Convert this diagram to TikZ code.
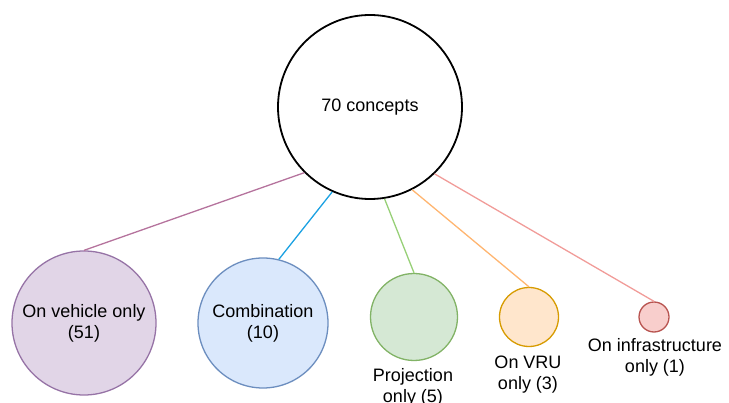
\documentclass[tikz,border=0pt]{standalone}
\usepackage{fontspec}
\setmainfont{Liberation Sans}
\definecolor{vehfill}{HTML}{E1D5E7}\definecolor{vehline}{HTML}{9673A6}
\definecolor{combfill}{HTML}{DAE8FC}\definecolor{combline}{HTML}{6C8EBF}
\definecolor{projfill}{HTML}{D5E8D4}\definecolor{projline}{HTML}{82B366}
\definecolor{vrufill}{HTML}{FFE6CC}\definecolor{vruline}{HTML}{D79B00}
\definecolor{infrafill}{HTML}{F8CECC}\definecolor{infraline}{HTML}{B85450}
\definecolor{vehlink}{HTML}{B5739D}\definecolor{comblink}{HTML}{1BA1E2}
\definecolor{projlink}{HTML}{97D077}\definecolor{vrulink}{HTML}{FFB570}
\definecolor{infralink}{HTML}{F19C99}

\begin{document}
\begin{tikzpicture}[x=1pt, y=-1pt, font=\fontsize{18}{21}\selectfont,
  bubble/.style={circle, inner sep=0pt, line width=1.3pt, align=center},
  link/.style={line width=1.3pt},
  caption/.style={align=center, inner sep=0pt}]
  \useasboundingbox (0,0) rectangle (729,403);
  % top circle
  \node[bubble, draw=black, line width=1.8pt, minimum size=184pt] (main) at (370,107) {70 concepts};
  % groups
  \node[bubble, draw=vehline, fill=vehfill, minimum size=144pt] (veh) at (84,323) {On vehicle only\\(51)};
  \node[bubble, draw=combline, fill=combfill, minimum size=130pt] (comb) at (263,323) {Combination\\(10)};
  \node[bubble, draw=projline, fill=projfill, minimum size=87pt] (proj) at (414,317) {};
  \node[bubble, draw=vruline, fill=vrufill, minimum size=59pt] (vru) at (529,317) {};
  \node[bubble, draw=infraline, fill=infrafill, minimum size=30pt] (infra) at (654,317) {};
  % labels under the small ones
  \node[caption] (projtext) at (413,387) {Projection\\only (5)};
  \node[caption] (vrutext) at (528,375) {On VRU\\only (3)};
  \node[caption] (infratext) at (655,357) {On infrastructure\\only (1)};
  % links
  \draw[link, vehlink] (main.225) -- (veh.north);
  \draw[link, comblink] (main.246) -- (comb.76);
  \draw[link, projlink] (main.279) -- (proj.north);
  \draw[link, vrulink] (main.297) -- (vru.north);
  \draw[link, infralink] (main.314) -- (infra.north);
\end{tikzpicture}
\end{document}
